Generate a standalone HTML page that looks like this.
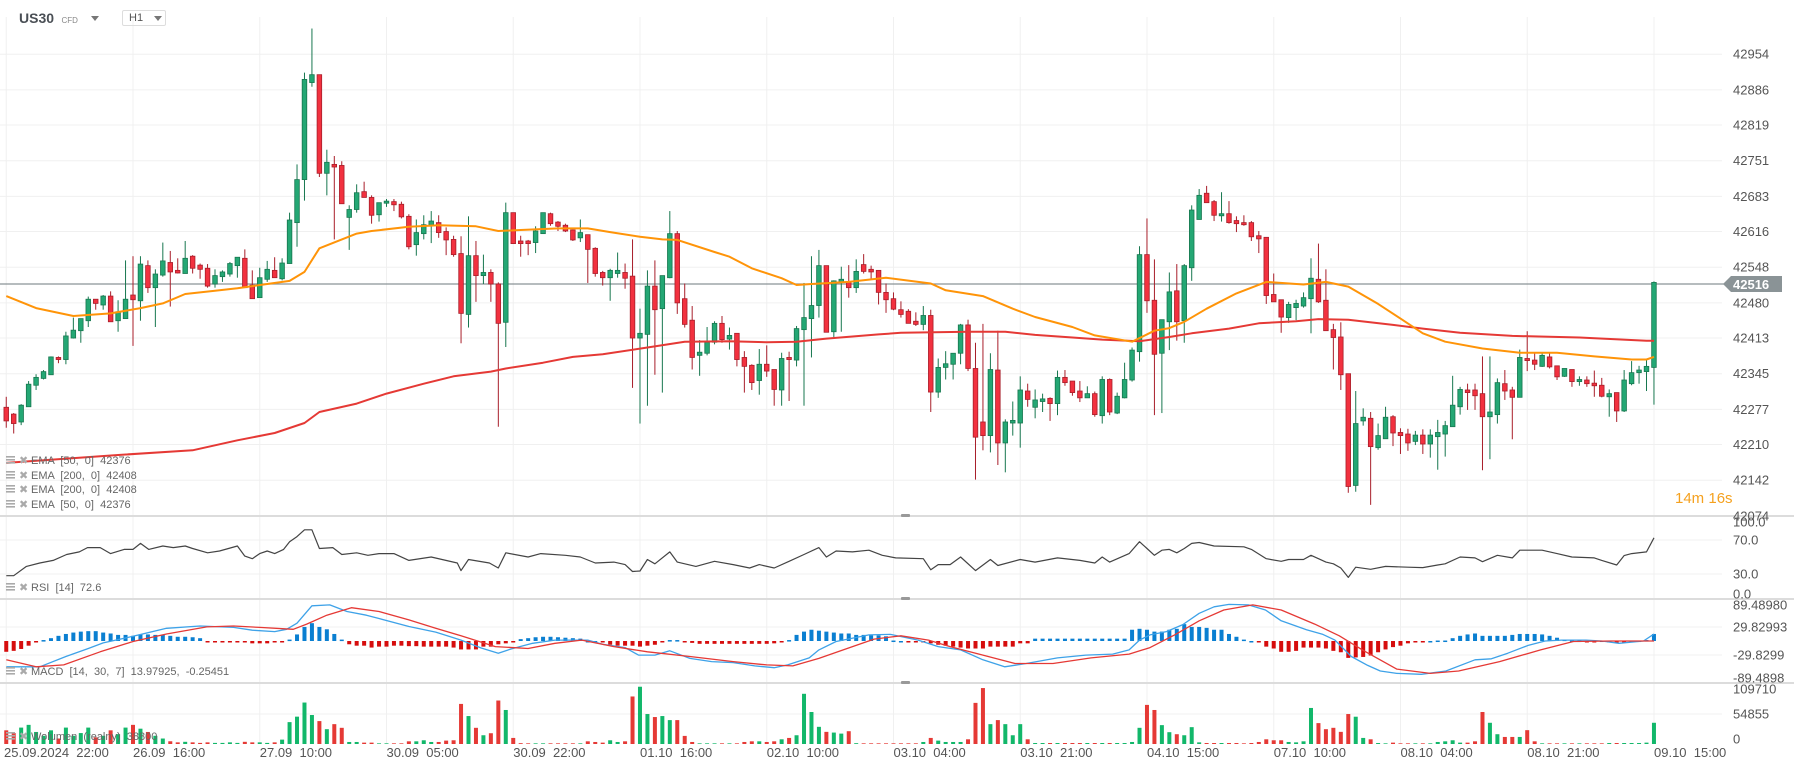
<!DOCTYPE html>
<html><head><meta charset="utf-8"><title>US30 H1</title>
<style>
html,body{margin:0;padding:0;background:#fff;width:1794px;height:770px;overflow:hidden;font-family:"Liberation Sans",Arial,sans-serif}
#chart{position:absolute;left:0;top:0}
.hdr{position:absolute;font-family:"Liberation Sans",sans-serif}
</style></head><body>
<svg id="chart" width="1794" height="770" viewBox="0 0 1794 770" xmlns="http://www.w3.org/2000/svg">
  <g id="grid"></g><g id="panes"></g><g id="ind"></g><g id="candles"></g><g id="labels"></g>
</svg>
<div class="hdr" style="left:19px;top:10px;height:16px;">
  <span style="font-size:14px;font-weight:bold;color:#4a4f55">US30</span>
  <span style="font-size:8px;color:#888;margin-left:3px">CFD</span>
  <span style="display:inline-block;margin-left:9px;width:0;height:0;border-left:4px solid transparent;border-right:4px solid transparent;border-top:5px solid #777;vertical-align:middle"></span>
</div>
<div class="hdr" style="left:122px;top:10px;width:42px;height:14px;border:1px solid #ddd;border-radius:2px;font-size:11px;color:#555;line-height:14px">
  <span style="margin-left:6px">H1</span>
  <span style="position:absolute;left:31px;top:5px;width:0;height:0;border-left:4px solid transparent;border-right:4px solid transparent;border-top:5px solid #777"></span>
</div>
<script>
const openP=[42281,42268,42253,42282,42323,42336,42343,42376,42372,42413,42427,42446,42487,42476,42493,42446,42450,42495,42484,42551,42509,42533,42557,42542,42536,42569,42552,42546,42516,42530,42535,42551,42565,42514,42490,42525,42542,42526,42555,42633,42715,42900,42915,42727,42744,42742,42643,42658,42692,42681,42648,42670,42673,42668,42645,42591,42612,42628,42633,42616,42601,42574,42458,42570,42532,42538,42516,42443,42652,42598,42598,42595,42612,42650,42634,42628,42619,42604,42610,42584,42538,42528,42536,42538,42531,42413,42420,42512,42469,42528,42612,42488,42447,42380,42384,42405,42441,42411,42422,42376,42361,42332,42363,42353,42314,42376,42371,42429,42450,42475,42551,42425,42520,42520,42509,42553,42544,42542,42500,42488,42467,42464,42445,42439,42456,42310,42357,42363,42384,42438,42355,42253,42227,42352,42213,42251,42251,42312,42281,42292,42298,42288,42338,42331,42312,42299,42307,42265,42334,42270,42299,42333,42387,42572,42485,42384,42444,42503,42446,42547,42639,42689,42673,42646,42650,42637,42633,42633,42608,42605,42496,42486,42452,42471,42474,42488,42525,42485,42429,42415,42345,42132,42255,42260,42204,42221,42263,42233,42230,42216,42228,42211,42225,42230,42244,42282,42314,42314,42307,42263,42267,42326,42314,42300,42374,42371,42359,42377,42360,42340,42353,42330,42333,42327,42323,42301,42309,42274,42326,42347,42349,42357];
const closeP=[42255,42250,42285,42325,42338,42349,42377,42372,42417,42428,42450,42487,42479,42493,42444,42463,42487,42486,42554,42509,42535,42560,42539,42537,42565,42546,42544,42512,42532,42539,42555,42567,42509,42488,42528,42544,42528,42556,42638,42715,42906,42915,42727,42748,42739,42669,42658,42690,42681,42647,42671,42674,42667,42644,42587,42614,42629,42636,42614,42600,42572,42460,42570,42532,42538,42516,42441,42652,42593,42593,42593,42617,42652,42631,42626,42617,42600,42614,42582,42536,42528,42542,42542,42527,42413,42422,42512,42467,42532,42612,42480,42439,42376,42386,42405,42441,42410,42418,42372,42359,42328,42363,42350,42315,42374,42372,42431,42452,42475,42551,42424,42522,42525,42509,42540,42540,42539,42500,42486,42468,42458,42441,42439,42456,42310,42357,42364,42384,42438,42355,42224,42227,42353,42213,42253,42256,42314,42296,42295,42297,42288,42338,42328,42309,42299,42307,42267,42334,42272,42302,42334,42390,42572,42484,42382,42448,42501,42444,42551,42657,42685,42671,42647,42650,42633,42631,42629,42606,42602,42494,42482,42453,42477,42479,42490,42527,42482,42427,42414,42343,42130,42250,42262,42206,42227,42262,42232,42227,42213,42228,42211,42228,42233,42246,42285,42315,42309,42303,42263,42272,42328,42312,42300,42376,42370,42363,42380,42358,42339,42355,42330,42334,42326,42322,42302,42307,42274,42333,42347,42352,42359,42519];
const highP=[42301,42270,42287,42331,42344,42352,42378,42378,42425,42452,42450,42492,42487,42495,42502,42485,42561,42569,42569,42561,42544,42595,42579,42565,42598,42571,42555,42554,42544,42542,42558,42567,42582,42542,42547,42560,42567,42565,42652,42744,42919,43003,42915,42772,42760,42750,42666,42706,42711,42685,42671,42678,42678,42673,42649,42639,42647,42655,42647,42624,42608,42607,42645,42598,42572,42544,42519,42671,42652,42608,42600,42626,42652,42652,42636,42631,42620,42639,42610,42586,42541,42545,42576,42555,42601,42469,42542,42561,42532,42655,42617,42517,42474,42409,42434,42445,42455,42433,42422,42388,42363,42392,42399,42353,42385,42387,42436,42518,42569,42581,42551,42523,42549,42552,42563,42573,42551,42542,42517,42500,42483,42468,42462,42474,42467,42374,42388,42384,42440,42448,42404,42440,42384,42427,42258,42292,42340,42326,42315,42307,42300,42351,42352,42331,42331,42321,42311,42340,42336,42309,42366,42395,42588,42641,42563,42448,42538,42554,42554,42666,42697,42703,42676,42691,42674,42645,42647,42636,42617,42605,42536,42486,42482,42486,42500,42565,42593,42544,42440,42443,42345,42312,42279,42272,42250,42282,42266,42241,42240,42236,42239,42239,42257,42255,42341,42320,42326,42326,42378,42378,42336,42352,42320,42391,42426,42384,42384,42384,42360,42355,42353,42340,42340,42351,42337,42315,42309,42352,42369,42360,42374,42521];
const lowP=[42242,42231,42247,42282,42314,42334,42343,42365,42363,42412,42404,42434,42467,42467,42444,42425,42450,42398,42446,42499,42434,42530,42473,42536,42536,42536,42526,42509,42509,42520,42530,42528,42509,42488,42490,42520,42528,42523,42555,42587,42675,42892,42720,42685,42601,42669,42581,42652,42681,42631,42635,42663,42655,42641,42582,42570,42601,42594,42604,42571,42568,42403,42433,42482,42516,42482,42244,42396,42593,42568,42571,42575,42612,42627,42617,42615,42598,42596,42518,42530,42513,42484,42528,42507,42318,42250,42284,42343,42309,42527,42459,42433,42353,42341,42380,42401,42404,42391,42359,42309,42314,42305,42339,42284,42284,42293,42359,42284,42376,42452,42424,42415,42425,42490,42499,42536,42526,42477,42461,42466,42452,42441,42436,42428,42272,42299,42334,42334,42363,42350,42143,42199,42195,42171,42157,42227,42204,42282,42260,42272,42255,42266,42322,42303,42291,42299,42263,42250,42266,42268,42298,42330,42368,42461,42266,42270,42390,42408,42404,42522,42639,42671,42636,42635,42631,42615,42627,42598,42575,42478,42482,42423,42442,42447,42471,42422,42480,42427,42353,42314,42118,42120,42246,42095,42200,42221,42207,42192,42198,42209,42192,42185,42162,42187,42244,42267,42276,42276,42161,42182,42250,42295,42220,42300,42350,42352,42358,42355,42333,42339,42320,42322,42320,42301,42300,42263,42253,42272,42323,42326,42312,42286];
const volume=[25000,20000,30000,35000,22000,15000,25000,10000,30000,15000,20000,30000,12000,15000,25000,18000,30000,35000,28000,22000,15000,10000,5000,3000,4000,3000,2000,3000,2000,2000,3000,2000,4000,3000,3000,2000,3000,8000,40000,50000,75800,53000,41900,27100,36300,29600,3700,3700,2500,2500,1200,1200,1200,1200,4900,4900,6800,3700,3700,6200,6800,73300,51100,29600,16000,19700,79500,62200,11100,1500,1200,1200,1200,1200,1200,1200,1200,1200,4900,3700,2500,6800,3700,4900,86900,104700,54800,49300,51100,43700,43700,14800,3700,1200,1200,1200,1200,1200,1200,3700,4900,4900,3700,4900,8600,11100,16000,91800,58500,31400,22200,20900,19000,23400,1500,1200,1200,1200,1200,1200,1200,1200,1200,3700,11100,6200,3700,3700,3700,8600,75200,102300,36300,43700,36300,16000,36300,8600,1800,1800,1800,1800,1800,1800,1800,1800,1800,1800,1800,1800,1800,3700,29600,71500,62200,34500,21600,17900,16000,30800,3000,1800,1800,1800,1800,1800,1200,1800,3700,8600,6800,6800,3700,3000,4900,65900,38200,27100,29600,22200,54800,49900,11100,8600,1800,1200,2500,1200,1200,1200,1200,1200,3700,4900,6800,2500,2500,4900,58500,38800,17900,12900,12900,12900,25300,4900,1200,1200,1200,1200,1200,1200,1200,1200,1200,1800,1800,1800,1800,1800,2500,38800];
const macdHist=[-23,-21,-17,-10,-3,2,6,11,15,18,20,21,21,18,16,13,13,11,14,14,13,13,11,9,9,8,6,-1,-1,-1,-1,-1,-1,-5,-5,-5,-3,-3,3,14,30,38,30,25,15,3,-7,-10,-10,-14,-12,-12,-10,-10,-11,-11,-12,-12,-12,-12,-14,-18,-18,-18,-12,-12,-7,-5,-2,4,6,8,9,9,8,7,6,5,0,0,-3,-8,-10,-10,-10,-12,-10,-8,-3,2,2,-1,-4,-6,-6,-6,-6,-6,-6,-6,-6,-6,-6,-5,-2,2,13,20,24,22,20,18,16,16,13,13,12,12,10,1,0,-3,-3,-3,-5,-8,-10,-12,-14,-16,-16,-16,-12,-12,-12,-12,-5,-5,5,5,5,5,5,5,5,5,5,5,5,5,5,24,26,24,20,20,24,26,36,30,30,28,24,24,15,9,3,0,-3,-12,-16,-23,-23,-21,-14,-14,-14,-16,-21,-24,-36,-35,-34,-31,-24,-18,-13,-10,-5,-3,-2,0,1,1,6,11,14,16,11,11,11,11,13,15,15,15,14,11,7,3,1,1,-1,-1,1,-2,-4,-2,-1,1,2,15];
const ema50Idx=[0,4,9,14,18,21,24,28,31,35,38,40,42,47,49,54,58,63,66,69,74,78,81,85,88,90,95,97,100,104,106,108,113,118,124,126,131,135,138,143,146,151,154,156,158,161,165,169,174,177,180,184,187,190,193,198,203,208,213,218,220,221];
const ema50Val=[42493,42470,42455,42460,42470,42479,42497,42503,42508,42516,42522,42539,42584,42612,42617,42625,42628,42626,42617,42619,42622,42622,42615,42606,42601,42600,42577,42568,42546,42527,42514,42516,42520,42528,42517,42504,42493,42469,42453,42434,42418,42406,42427,42432,42444,42469,42498,42520,42515,42520,42511,42478,42450,42422,42406,42393,42385,42385,42378,42372,42372,42377];
const ema200Idx=[0,15,25,31,36,40,42,47,51,56,60,65,67,72,76,80,86,91,97,102,106,110,117,120,129,134,138,143,147,152,156,159,164,168,173,176,180,186,190,195,202,211,220,221];
const ema200Val=[42175,42190,42199,42218,42232,42251,42272,42288,42307,42326,42340,42349,42355,42366,42377,42382,42395,42406,42407,42405,42406,42412,42420,42423,42425,42425,42419,42414,42410,42407,42415,42422,42431,42441,42445,42449,42448,42438,42431,42423,42417,42414,42408,42408];
const rsiIdx=[0,1,2.7,4.5,6.3,8.1,9.8,10.9,12.6,14,15.8,17,18,19.1,21,22.4,24,25,27,28.6,31,32,33,34,35,36,37.2,38,39,40,41,42,43.8,45,47,48.5,50,52,54,57,60.5,61,62,64.8,66,67,70,71.7,75,77,79,81.5,83,84,85,86,87,89,90,92.5,95,97.5,99.7,101,103,105,107,109,110,111.3,113.5,115.7,117.5,119.3,123,124,125,126.6,128,130,132,133,136,138,141,144,146,147,148,150.6,152,153,154,155,156,157,158,159,160,162,166,167,169,171,172,174,175,176,177,178,179,180,181,183,185,188,190,192,193,195,197,198,200,202,203,206,208,210,213,214,216,217,218,220,221];
const rsiVal=[28,28,39,43,46,53,56,61,61,54,59,59,66,59,63,61,63,60,55,57,63,51,48,54,57,54,59,68,74,82,82,60,61,53,55,52,54,54,46,50,43,34,47,43,37,55,50,54,52,50,43,44,41,33,33.5,47,42,56,44,39,45,41,37,41,37,45,53,61,50,57,56,58,52,49,48,35,41,41,50,34,47,40,47,44,49,46,43,50,44,54,68,60,52,58,59,55,60,66,67,63,62,59,48,45,47,47,52,48,44,42,37,26,38,35.5,39,38,37.5,40.6,42,50,49,44.5,52,49,58,58,54,50,49,46,40.6,51.6,54,56,72.6];
const macdIdx=[0,4.5,8,11,13,17,21.5,26,30.5,33,36,37.6,39,41,43.4,45.7,48.3,50,54,57.6,61,63.7,66,67.7,70.6,73.6,78,80,83,84.8,87,89,91.7,94.6,97.5,100.4,103,104.8,107.7,109,111.3,115.7,118.6,122.3,125,128,131,133.9,136.8,141,144.8,148.4,150.6,152,153.4,155.6,157.8,160,162,164,166.6,168.9,171,174.4,176.6,178.2,180.4,182.6,184.3,186.5,189.8,193.1,197,199.2,201.4,204.2,206.4,208.6,211.9,214,216.3,219.6,221];
const macdVal=[-55,-55,-33,-16,-4,10,27,32,29,23,20,25,38,75,77,63,55,48,31,19,2,-15,-26,-17,-5,2,2,-7,-14,-30,-30,-21,-37,-44,-46,-53,-57,-51,-36,-19,-1,13,14,2,-12,-19,-40,-55,-48,-36,-30,-28,-19,2,13,20,35,59,73,78,77,66,43,24,14,2,-33,-52,-64,-69,-71,-64,-40,-38,-26,-9,0,2,2,0,-5,0,15];
const signalIdx=[0,4,7.7,12.6,17,21.5,26.9,30.5,34,38.5,40.3,43,46.3,50,54,57.6,61,65.6,70,73.6,77.2,81.5,86,91.7,97.5,102,105.5,109,113.5,116.4,120,123.7,126.6,131,135.3,140.4,145.5,150.6,153.4,156.7,160,163.3,167.2,171,175.5,178.8,182.1,186.5,191,194.8,200.3,205.8,210.2,215.2,221];
const signalVal=[-40,-55,-51,-23,-1,15,30,32,29,25,36,55,71,63,45,27,11,-12,-16,-5,2,-12,-23,-33,-44,-51,-53,-37,-12,4,11,2,-12,-30,-48,-48,-36,-28,-14,13,43,66,77,66,36,11,-21,-60,-69,-64,-44,-19,-1,0,0];
const priceTicks=[42954,42886,42819,42751,42683,42616,42548,42480,42413,42345,42277,42210,42142,42074];
const timeLabels=["25.09.2024  22:00","26.09  16:00","27.09  10:00","30.09  05:00","30.09  22:00","01.10  16:00","02.10  10:00","03.10  04:00","03.10  21:00","04.10  15:00","07.10  10:00","08.10  04:00","08.10  21:00","09.10  15:00"];
const rsiTicks=[["100.0",522],["70.0",540],["30.0",574],["0.0",594]];
const macdTicks=[["89.48980",605],["29.82993",627],["-29.8299",655],["-89.4898",678]];
const volTicks=[["109710",689],["54855",714],["0",739]];
const lastPrice=42516;

const NS="http://www.w3.org/2000/svg";
const X=i=>6.25+i*7.4557;
const yP=p=>284+(42516-p)*0.5246;
const yR=v=>557-(v-50)*0.85;
const yM=v=>641-v*0.469;
const yV=v=>744-v*30/54855;
function mk(tag,attrs,parent){const e=document.createElementNS(NS,tag);for(const k in attrs)e.setAttribute(k,attrs[k]);parent.appendChild(e);return e;}
const G=document.getElementById('grid'),P=document.getElementById('panes'),I=document.getElementById('ind'),C=document.getElementById('candles'),L=document.getElementById('labels');

// vertical grid + time labels
timeLabels.forEach((t,k)=>{const x=6.25+k*126.75;
  const ln=mk('line',{x1:x,x2:x,y1:17,y2:744,stroke:'#f0f0f0','stroke-width':1},G);
  
  
  const tx=mk('text',{x:k===0?4:x,y:757,'font-size':13,fill:'#555','font-family':'Liberation Sans, sans-serif','xml:space':'preserve'},L);
  tx.style.whiteSpace='pre';tx.textContent=t;
  
  
});
// price grid + labels
priceTicks.forEach(p=>{const y=yP(p);
  const ln=mk('line',{x1:0,x2:1722,y1:y,y2:y,stroke:'#f0f0f0','stroke-width':1},G);
  
  
  const tx=mk('text',{x:1733,y:y+4.5,'font-size':13,fill:'#555','font-family':'Liberation Sans, sans-serif'},L);
  tx.textContent=p;
  
  
});
function paneTicks(arr,name,grid){arr.forEach(([t,y],j)=>{
  if(grid&&j>0&&j<arr.length-1){const ln=mk('line',{x1:0,x2:1722,y1:y,y2:y,stroke:'#f0f0f0'},G);
    
    }
  const tx=mk('text',{x:1733,y:y+4.5,'font-size':13,fill:'#555','font-family':'Liberation Sans, sans-serif'},L);
  tx.textContent=t;
  
  
});}
paneTicks(rsiTicks,'rsi',true);paneTicks(macdTicks,'macd',true);paneTicks(volTicks,'volume',true);
// pane separators
[516,599,683].forEach(y=>{const s=mk('line',{x1:0,x2:1794,y1:y,y2:y,stroke:'#dcdcdc','stroke-width':2},P);
  
  
  const h=mk('rect',{x:901,y:y-2,width:9,height:3,fill:'#999',rx:1},P);
  
  
});
// current price line
const cl=mk('line',{x1:0,x2:1724,y1:yP(lastPrice),y2:yP(lastPrice),stroke:'#8a9396','stroke-width':1.3},I);


// EMA lines
function poly(idx,val,yf,color,w,name,parent){const pts=idx.map((i,k)=>X(i).toFixed(1)+','+yf(val[k]).toFixed(1)).join(' ');
  const pl=mk('polyline',{points:pts,fill:'none',stroke:color,'stroke-width':w,'stroke-linejoin':'round'},parent);
  
  return pl;}
// volume bars
volume.forEach((v,i)=>{const up=closeP[i]>=openP[i];const y=yV(v);
  const r=mk('rect',{x:X(i)-2,y:y,width:4,height:744-y,fill:up?'#12b76a':'#e53935'},I);
  
  
});
// MACD histogram
macdHist.forEach((v,i)=>{const y0=641,y1=yM(v);
  const r=mk('rect',{x:X(i)-2,y:Math.min(y0,y1),width:4,height:Math.max(1.5,Math.abs(y1-y0)),fill:v>=0?'#0a7fd1':'#d60d0d'},I);
  
  
});
poly(macdIdx,macdVal,yM,'#3ea2e8',1.3,'macd-line',I);
poly(signalIdx,signalVal,yM,'#e53935',1.3,'macd-signal-line',I);
poly(rsiIdx,rsiVal,yR,'#444',1.2,'rsi-line',I);
// candles
for(let i=0;i<openP.length;i++){const up=closeP[i]>=openP[i];const x=X(i);
  const g=mk('g',{},C);
  
  
  const wc=up?'#17774f':'#a81e2a';
  mk('line',{x1:x,x2:x,y1:yP(highP[i]),y2:yP(lowP[i]),stroke:wc,'stroke-width':1},g);
  const yt=yP(Math.max(openP[i],closeP[i])),yb=yP(Math.min(openP[i],closeP[i]));
  mk('rect',{x:x-2.3,y:yt,width:4.6,height:Math.max(1.5,yb-yt),fill:up?'#24a774':'#f2313f',stroke:wc,'stroke-width':0.8},g);
}
poly(ema200Idx,ema200Val,yP,'#e53935',2,'ema200-line',C);
poly(ema50Idx,ema50Val,yP,'#ff9408',2,'ema50-line',C);
// current price tag
const tg=mk('g',{},L);


const yc=yP(lastPrice);
mk('polygon',{points:`1723,${yc} 1731,${yc-8} 1782,${yc-8} 1782,${yc+8} 1731,${yc+8}`,fill:'#8a9396'},tg);
const tt=mk('text',{x:1733,y:yc+5,'font-size':13,'font-weight':'bold',fill:'#fff','font-family':'Liberation Sans, sans-serif'},tg);
tt.textContent=lastPrice;
// countdown
const cd=mk('text',{x:1675,y:503,'font-size':15,fill:'#f5a11f','font-family':'Liberation Sans, sans-serif'},L);
cd.textContent='14m 16s';


// legends
function legend(y,text,name){const g=mk('g',{},L);
  
  
  for(let k=0;k<3;k++)mk('rect',{x:6,y:y-8+k*3,width:9,height:1.6,fill:'#aaa'},g);
  const x1=mk('text',{x:19,y:y,'font-size':11,fill:'#aaa','font-family':'DejaVu Sans, sans-serif'},g);x1.textContent='✖';
  const t=mk('text',{x:31,y:y,'font-size':11,fill:'#666','font-family':'Liberation Sans, sans-serif','xml:space':'preserve'},g);
  t.style.whiteSpace='pre';t.textContent=text;}
legend(464,'EMA  [50,  0]  42376','legend-ema50');
legend(479,'EMA  [200,  0]  42408','legend-ema200');
legend(493,'EMA  [200,  0]  42408','legend-ema200-duplicate');
legend(508,'EMA  [50,  0]  42376','legend-ema50-duplicate');
legend(591,'RSI  [14]  72.6','legend-rsi');
legend(675,'MACD  [14,  30,  7]  13.97925,  -0.25451','legend-macd');
legend(740,'Wolumen  (realny)  38800','legend-volume');
</script>
</body></html>
